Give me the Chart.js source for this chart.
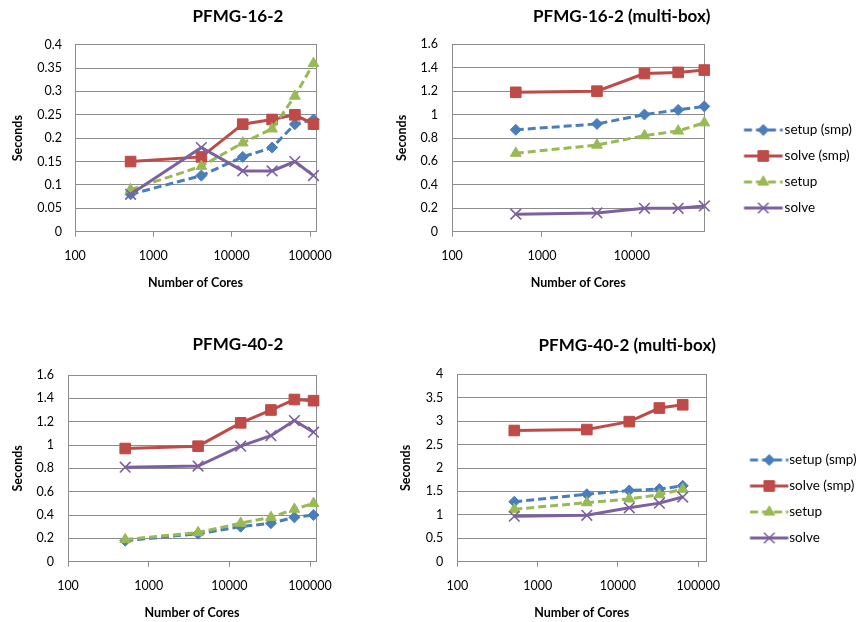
<!DOCTYPE html>
<html>
<head>
<meta charset="utf-8">
<script src="https://cdn.jsdelivr.net/npm/chart.js@4.4.1/dist/chart.umd.min.js"></script>
<style>
  html, body { margin: 0; padding: 0; background: #fff; }
  body { width: 860px; height: 622px; position: relative; overflow: hidden; }
  canvas { position: absolute; }
</style>
</head>
<body>
<canvas id="c16" width="476" height="338" style="left:0px;top:0px"></canvas>
<canvas id="c16mb" width="475" height="338" style="left:380px;top:0px"></canvas>
<canvas id="c40" width="476" height="338" style="left:0px;top:330px"></canvas>
<canvas id="c40mb" width="476" height="338" style="left:380px;top:330px"></canvas>
<script>
// ---- data ----
const coresFull = [512, 4096, 13824, 32768, 64000, 110592];
const coresBox = [512, 4096, 13824, 32768, 64000];
const xTickValues = [100, 1000, 10000, 100000];
const seriesNames = ["setup (smp)", "solve (smp)", "setup", "solve"];

// PFMG-16-2
const p16_setupSmp = [0.08, 0.12, 0.16, 0.18, 0.23, 0.24];
const p16_solveSmp = [0.15, 0.16, 0.23, 0.24, 0.25, 0.23];
const p16_setup = [0.09, 0.14, 0.19, 0.22, 0.29, 0.36];
const p16_solve = [0.08, 0.18, 0.13, 0.13, 0.15, 0.12];
const p16_yTicks = [0, 0.05, 0.1, 0.15, 0.2, 0.25, 0.3, 0.35, 0.4];

// PFMG-16-2 (multi-box)
const p16mb_setupSmp = [0.87, 0.92, 1.0, 1.04, 1.07];
const p16mb_solveSmp = [1.19, 1.2, 1.35, 1.36, 1.38];
const p16mb_setup = [0.67, 0.74, 0.82, 0.86, 0.93];
const p16mb_solve = [0.15, 0.16, 0.2, 0.2, 0.22];
const p16mb_yTicks = [0, 0.2, 0.4, 0.6, 0.8, 1, 1.2, 1.4, 1.6];

// PFMG-40-2
const p40_setupSmp = [0.18, 0.24, 0.3, 0.33, 0.38, 0.4];
const p40_solveSmp = [0.97, 0.99, 1.19, 1.3, 1.39, 1.38];
const p40_setup = [0.19, 0.25, 0.33, 0.38, 0.45, 0.5];
const p40_solve = [0.81, 0.82, 0.99, 1.08, 1.21, 1.11];
const p40_yTicks = [0, 0.2, 0.4, 0.6, 0.8, 1, 1.2, 1.4, 1.6];

// PFMG-40-2 (multi-box)
const p40mb_setupSmp = [1.28, 1.44, 1.52, 1.55, 1.62];
const p40mb_solveSmp = [2.8, 2.82, 2.99, 3.28, 3.35];
const p40mb_setup = [1.12, 1.26, 1.34, 1.43, 1.55];
const p40mb_solve = [0.97, 0.99, 1.15, 1.25, 1.38];
const p40mb_yTicks = [0, 0.5, 1, 1.5, 2, 2.5, 3, 3.5, 4];

// ---- styles ----
const seriesColors = ["#4a7ebb", "#be4b48", "#98b954", "#7d60a0"];
const seriesDash = [[8, 4], [], [8, 4], []];
const seriesPoint = ["rectRot", "rect", "triangle", "crossRot"];
const seriesRadius = [5.5, 7.5, 6.2, 7.5];
const gridColor = "#8c8c8c";

Chart.defaults.font.family = "Lato, 'Noto Sans', sans-serif";
Chart.defaults.color = "#000";

const align = (v) => Math.round(v - 0.5) + 0.5;

// border around the plot area (right and top sides)
const plotBorder = {
  id: "plotBorder",
  beforeDatasetsDraw(chart) {
    const { ctx, chartArea } = chart;
    const l = align(chartArea.left), t = align(chartArea.top);
    const r = align(chartArea.right), b = align(chartArea.bottom);
    ctx.save();
    ctx.strokeStyle = gridColor;
    ctx.lineWidth = 1;
    ctx.strokeRect(l, t, r - l, b - t);
    ctx.restore();
  },
};

function drawMarker(ctx, style, x, y, r, color) {
  ctx.save();
  ctx.setLineDash([]);
  ctx.fillStyle = color;
  ctx.strokeStyle = color;
  ctx.beginPath();
  if (style === "rectRot") {
    ctx.lineWidth = 1;
    ctx.moveTo(x - r, y);
    ctx.lineTo(x, y - r);
    ctx.lineTo(x + r, y);
    ctx.lineTo(x, y + r);
    ctx.closePath();
    ctx.fill();
    ctx.stroke();
  } else if (style === "rect") {
    const s = r * Math.SQRT1_2;
    ctx.lineWidth = 1;
    ctx.rect(x - s, y - s, 2 * s, 2 * s);
    ctx.fill();
    ctx.stroke();
  } else if (style === "triangle") {
    ctx.lineWidth = 1;
    ctx.moveTo(x, y - r);
    ctx.lineTo(x + r * 0.866, y + r / 2);
    ctx.lineTo(x - r * 0.866, y + r / 2);
    ctx.closePath();
    ctx.fill();
    ctx.stroke();
  } else {
    const s = r * Math.SQRT1_2;
    ctx.lineWidth = 1.6;
    ctx.moveTo(x - s, y - s);
    ctx.lineTo(x + s, y + s);
    ctx.moveTo(x + s, y - s);
    ctx.lineTo(x - s, y + s);
    ctx.stroke();
  }
  ctx.restore();
}

// legend symbol: short line with the marker on it
function legendIcon(i, geom) {
  const c = document.createElement("canvas");
  c.width = 78;
  c.height = 16;
  const ctx = c.getContext("2d");
  ctx.strokeStyle = seriesColors[i];
  ctx.lineWidth = 3;
  ctx.setLineDash(seriesDash[i]);
  ctx.beginPath();
  ctx.moveTo(39 + geom.l0, 8);
  ctx.lineTo(39 + geom.l1, 8);
  ctx.stroke();
  drawMarker(ctx, seriesPoint[i], 39 + geom.mx, 8, seriesRadius[i], seriesColors[i]);
  return c;
}

function makeChart(id, cfg) {
  const datasets = cfg.series.map((vals, i) => ({
    label: seriesNames[i],
    data: vals.map((v, k) => ({ x: cfg.cores[k], y: v })),
    borderColor: seriesColors[i],
    backgroundColor: seriesColors[i],
    borderWidth: 3,
    borderDash: seriesDash[i],
    pointStyle: seriesPoint[i],
    pointRadius: seriesRadius[i],
    pointHoverRadius: seriesRadius[i],
    pointBorderWidth: i === 3 ? 1.6 : 1,
    pointBackgroundColor: seriesColors[i],
    pointBorderColor: seriesColors[i],
    tension: 0,
    fill: false,
    clip: false,
    yAxisID: "y",
    order: 4 - i,
  }));

  const scales = {
    x: {
      type: "logarithmic",
      min: 100,
      max: cfg.xMax,
      afterBuildTicks: (s) => {
        s.ticks = xTickValues.filter((v) => v <= cfg.xMax).map((v) => ({ value: v }));
      },
      ticks: {
        autoSkip: false,
        maxRotation: 0,
        padding: 11.5,
        color: "#000",
        font: { size: 12.5 },
        callback: (v) => String(v),
      },
      grid: { drawOnChartArea: false, drawTicks: true, tickLength: 5, color: gridColor },
      border: { color: gridColor },
      title: {
        display: true,
        text: "Number of Cores",
        color: "#000",
        font: { size: 12.5, weight: "bold" },
        padding: { top: 0, bottom: cfg.xTitlePad },
      },
      afterFit: (s) => { s.height = cfg.xHeight; },
    },
    y: {
      type: "linear",
      position: "left",
      min: 0,
      max: cfg.yMax,
      afterBuildTicks: (s) => {
        s.ticks = cfg.yTicks.map((v) => ({ value: v }));
      },
      ticks: {
        padding: cfg.yTickPad,
        color: "#000",
        font: { size: 12.5 },
        callback: (v) => String(v),
      },
      grid: { drawTicks: false, color: gridColor },
      border: { color: gridColor },
      title: {
        display: true,
        text: "Seconds",
        color: "#000",
        font: { size: 12.5, weight: "bold" },
        padding: { top: cfg.yTitlePad, bottom: 0 },
      },
      afterFit: (s) => { s.width = cfg.yWidth; },
    },
  };

  // left charts: empty box on the right so the title centres like the original
  if (!cfg.legend) {
    scales.yPad = {
      type: "linear",
      position: "right",
      display: true,
      grid: { display: false },
      border: { display: false },
      ticks: { display: false },
      afterFit: (s) => { s.width = cfg.rightPad; },
    };
  }

  let legend = { display: false };
  if (cfg.legend) {
    const icons = seriesNames.map((n, i) => legendIcon(i, cfg.legend.icon));
    legend = {
      display: true,
      position: "right",
      align: "center",
      maxWidth: cfg.legend.width,
      labels: {
        usePointStyle: true,
        pointStyleWidth: cfg.legend.box,
        boxHeight: 13,
        padding: 12.5,
        color: "#000",
        font: { size: 13.5 },
        generateLabels: (chart) => {
          const items = Chart.defaults.plugins.legend.labels.generateLabels(chart);
          items.sort((a, b) => a.datasetIndex - b.datasetIndex);
          items.forEach((it) => { it.pointStyle = icons[it.datasetIndex]; });
          return items;
        },
      },
    };
  }

  return new Chart(document.getElementById(id).getContext("2d"), {
    type: "line",
    data: { datasets },
    options: {
      responsive: false,
      animation: false,
      events: [],
      layout: { padding: { left: cfg.pl, right: cfg.pr, top: 0, bottom: 0 } },
      scales,
      plugins: {
        title: {
          display: true,
          text: cfg.title,
          color: "#000",
          font: { size: 17, weight: "bold" },
          padding: cfg.titlePad,
        },
        legend,
        tooltip: { enabled: false },
      },
    },
    plugins: [plotBorder],
  });
}

makeChart("c16", {
  title: "PFMG-16-2",
  cores: coresFull,
  series: [p16_setupSmp, p16_solveSmp, p16_setup, p16_solve],
  yMax: 0.4, yTicks: p16_yTicks, xMax: 119000,
  pl: 0, pr: 0, yWidth: 75, yTickPad: 13, yTitlePad: 10.5,
  titlePad: { top: 6.8, bottom: 17.5 },
  xHeight: 106.3, xTitlePad: 47.8, rightPad: 160,
});

makeChart("c16mb", {
  title: "PFMG-16-2 (multi-box)",
  cores: coresBox,
  series: [p16mb_setupSmp, p16mb_solveSmp, p16mb_setup, p16mb_solve],
  yMax: 1.6, yTicks: p16mb_yTicks, xMax: 64000,
  pl: 9.3, pr: 0.7, yWidth: 62.7, yTickPad: 14, yTitlePad: 4.9,
  titlePad: { top: 6.5, bottom: 17.4 },
  xHeight: 106.3, xTitlePad: 47.8,
  legend: { width: 150, box: 61, icon: { l0: -3.3, l1: 35.4, mx: 16 } },
});

makeChart("c40", {
  title: "PFMG-40-2",
  cores: coresFull,
  series: [p40_setupSmp, p40_solveSmp, p40_setup, p40_solve],
  yMax: 1.6, yTicks: p40_yTicks, xMax: 118600,
  pl: 0, pr: 0, yWidth: 68, yTickPad: 14, yTitlePad: 10.2,
  titlePad: { top: 4.8, bottom: 19.8 },
  xHeight: 106.3, xTitlePad: 47.8, rightPad: 160,
});

makeChart("c40mb", {
  title: "PFMG-40-2 (multi-box)",
  cores: coresBox,
  series: [p40mb_setupSmp, p40mb_solveSmp, p40mb_setup, p40mb_solve],
  yMax: 4, yTicks: p40mb_yTicks, xMax: 124700,
  pl: 18.4, pr: 0, yWidth: 58.9, yTickPad: 14, yTitlePad: 0.3,
  titlePad: { top: 5.1, bottom: 18.8 },
  xHeight: 106.3, xTitlePad: 47.8,
  legend: { width: 150, box: 64, icon: { l0: -0.5, l1: 37.8, mx: 18.8 } },
});
</script>
</body>
</html>
